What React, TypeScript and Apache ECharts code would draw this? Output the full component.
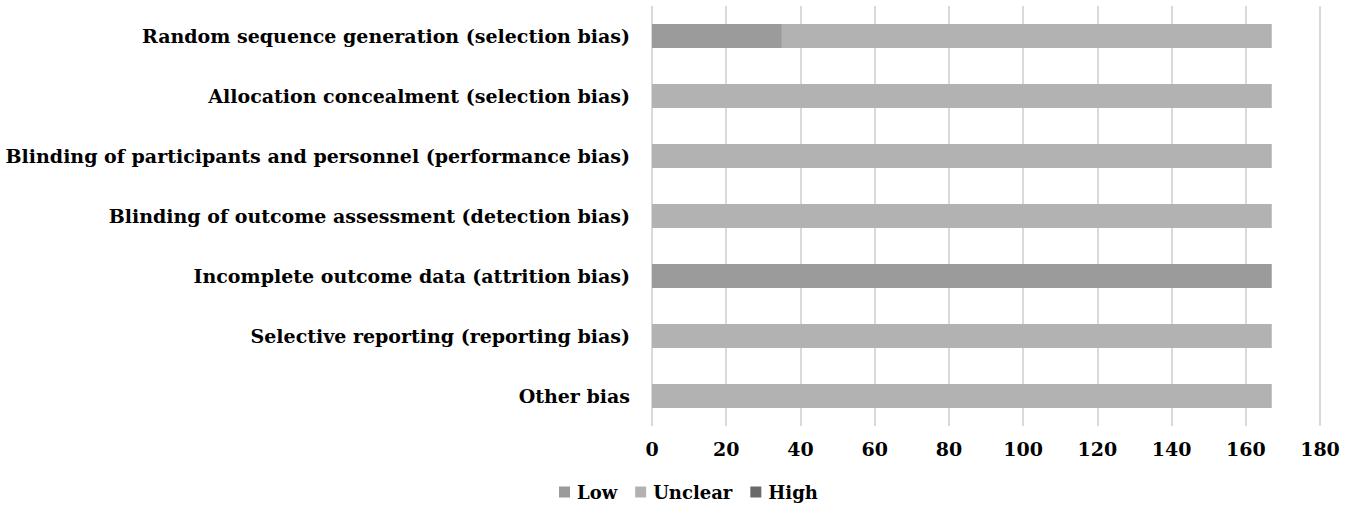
import React, { useEffect, useRef } from "react";
import * as echarts from "echarts";

const categories = [
  "Random sequence generation (selection bias)",
  "Allocation concealment (selection bias)",
  "Blinding of participants and personnel (performance bias)",
  "Blinding of outcome assessment (detection bias)",
  "Incomplete outcome data (attrition bias)",
  "Selective reporting (reporting bias)",
  "Other bias",
];
const lowValues = [35, 0, 0, 0, 167, 0, 0];
const unclearValues = [132, 167, 167, 167, 0, 167, 167];
const highValues = [0, 0, 0, 0, 0, 0, 0];
const seriesNames = ["Low", "Unclear", "High"];
const colors = ["#9b9b9b", "#b2b2b2", "#6a6a6a"];

const FONT = "'DejaVu Serif', serif";

export default function App() {
  const ref = useRef<HTMLDivElement>(null);
  useEffect(() => {
    document.body.style.margin = "0";
    const chart = echarts.init(ref.current!, null, { renderer: "svg" });
    const cats = [...categories].reverse();
    const rev = (a: number[]) => [...a].reverse();
    const data = [lowValues, unclearValues, highValues];
    chart.setOption({
      animation: false,
      textStyle: { fontFamily: FONT },
      legend: {
        bottom: 2,
        left: 554,
        itemWidth: 11,
        itemHeight: 11,
        itemGap: 18,
        icon: "rect",
        textStyle: { fontFamily: FONT, fontWeight: "bold", fontSize: 18, color: "#000", padding: [0, 0, 0, 2] },
        data: seriesNames,
      },
      grid: { left: 652, right: 35, top: 6, bottom: 82, containLabel: false },
      xAxis: {
        type: "value",
        min: 0,
        max: 180,
        interval: 20,
        axisLine: { show: false },
        axisTick: { show: false },
        splitLine: { lineStyle: { color: "#d9d9d9", width: 2 } },
        axisLabel: { fontFamily: FONT, fontWeight: "bold", fontSize: 19, color: "#000", margin: 13 },
      },
      yAxis: {
        type: "category",
        data: cats,
        axisLine: { show: false },
        axisTick: { show: false },
        axisLabel: { fontFamily: FONT, fontWeight: "bold", fontSize: 19, color: "#000", margin: 22 },
      },
      series: seriesNames.map((name, i) => ({
        name,
        type: "bar",
        stack: "total",
        barWidth: 24,
        itemStyle: { color: colors[i] },
        data: rev(data[i]),
      })),
    });
    return () => chart.dispose();
  }, []);
  return <div ref={ref} style={{ width: 1355, height: 508 }} />;
}
